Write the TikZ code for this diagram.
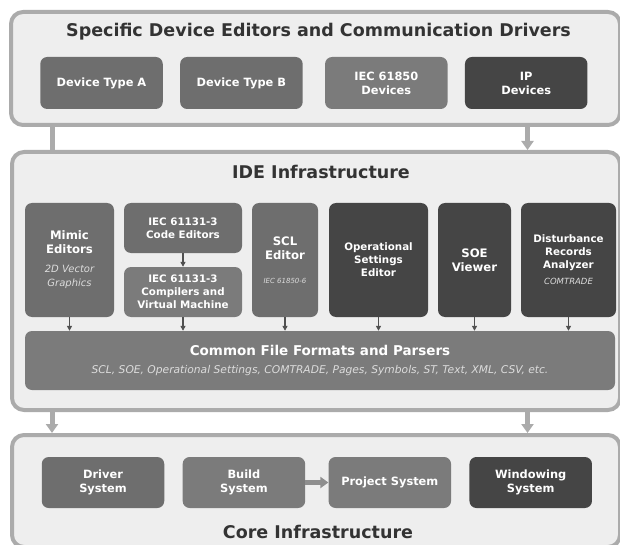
\documentclass[tikz,border=0pt]{standalone}
\usepackage{fontspec}
\setmainfont{DejaVu Sans}
\usepackage{xcolor}
\usepackage{tikz}
\usetikzlibrary{arrows.meta, positioning}

\definecolor{panelfill}{HTML}{EEEEEE}
\definecolor{panelline}{HTML}{ABABAB}
\definecolor{boxmid}{HTML}{6E6E6E}
\definecolor{boxlight}{HTML}{7B7B7B}
\definecolor{boxdark}{HTML}{454545}
\definecolor{titletext}{HTML}{333333}
\definecolor{notetext}{HTML}{DCDCDC}
\definecolor{tickarrow}{HTML}{505050}
\definecolor{flowarrow}{HTML}{8E8E8E}

\newcommand{\modnote}[2][10]{{\normalfont\itshape\fontsize{#1}{#1}\selectfont\color{notetext}#2}}
\newcommand{\modsmall}{\bfseries\fontsize{10.3}{13}\selectfont}
\newcommand{\modbig}{\bfseries\fontsize{11.7}{14}\selectfont}

\tikzstyle{panel} = [rectangle, rounded corners=12pt, draw=panelline, line width=4pt, fill=panelfill, inner sep=0pt]
\tikzstyle{paneltitle} = [text=titletext, font=\bfseries\fontsize{17.5}{20}\selectfont, inner sep=0pt]
\tikzstyle{module} = [rectangle, rounded corners=7pt, text=white, align=center, inner sep=0pt, font=\bfseries\fontsize{11.4}{14}\selectfont]
\tikzstyle{toprow} = [module, minimum width=122.5pt, minimum height=52pt]
\tikzstyle{idecol} = [module, minimum height=114pt]
\tikzstyle{layerline} = [draw=panelline, line width=5pt]
\tikzstyle{layerarrow} = [draw=panelline, line width=5pt, -{Triangle[width=12pt,length=9pt]}]
\tikzstyle{tick} = [draw=tickarrow, line width=1.2pt, -{Triangle[width=5pt,length=5pt]}]
\tikzstyle{flow} = [draw=flowarrow, line width=4.5pt, -{Triangle[width=11pt,length=8pt]}]

\begin{document}
\begin{tikzpicture}[x=1pt, y=-1pt]
\clip (0,0) rectangle (620,545);

\node (devpanel) [panel, minimum width=609pt, minimum height=113pt] at (315.5,68.5) {};
\node (idepanel) [panel, minimum width=608pt, minimum height=258pt] at (316,281) {};
\node (corepanel) [panel, minimum width=608pt, minimum height=112pt] at (316,491) {};

\node (devtitle) [paneltitle] at (318.5,32) {Specific Device Editors and Communication Drivers};
\node (idetitle) [paneltitle] at (321,172) {IDE Infrastructure};
\node (coretitle) [paneltitle] at (318,532) {Core Infrastructure};

\node (typea) [toprow, fill=boxmid] at (101.5,83) {Device Type A};
\node (typeb) [toprow, fill=boxmid, right=17pt of typea] {Device Type B};
\node (iecdev) [toprow, fill=boxlight, right=22pt of typeb] {IEC 61850\\Devices};
\node (ipdev) [toprow, fill=boxdark, right=17pt of iecdev] {IP\\Devices};

\node (mimic) [idecol, fill=boxmid, minimum width=89pt, font=\modbig] at (69.5,260) {Mimic\\Editors\\[5pt]\modnote{2D Vector}\\\modnote{Graphics}};
\node (code) [module, fill=boxmid, minimum width=118pt, minimum height=50pt, font=\modsmall] at (183,228) {IEC 61131-3\\Code Editors};
\node (compilers) [module, fill=boxlight, minimum width=118pt, minimum height=50pt, font=\modsmall] at (183,292) {IEC 61131-3\\Compilers and\\Virtual Machine};
\node (scl) [idecol, fill=boxmid, minimum width=66pt, font=\modbig] at (285,260) {SCL\\Editor\\[10pt]\modnote[7]{IEC 61850-6}};
\node (oper) [idecol, fill=boxdark, minimum width=99pt, font=\modsmall] at (378.5,260) {Operational\\Settings\\Editor};
\node (soe) [idecol, fill=boxdark, minimum width=73pt, font=\modbig] at (474.5,260) {SOE\\Viewer};
\node (dist) [idecol, fill=boxdark, minimum width=95pt, font=\modsmall] at (568.5,260) {Disturbance\\Records\\Analyzer\\[3pt]\modnote[8.5]{COMTRADE}};
\node (common) [module, fill=boxlight, minimum width=590pt, minimum height=59pt, font=\bfseries\fontsize{13.5}{16}\selectfont] at (320,360.5) {Common File Formats and Parsers\\[2pt]\modnote[10.7]{SCL, SOE, Operational Settings, COMTRADE, Pages, Symbols, ST, Text, XML, CSV, etc.}};

\node (driver) [toprow, fill=boxmid, minimum height=51pt] at (103,482.5) {Driver\\System};
\node (build) [toprow, fill=boxlight, minimum height=51pt, right=18pt of driver] {Build\\System};
\node (project) [toprow, fill=boxlight, minimum height=51pt, right=23pt of build] {Project System};
\node (windowing) [toprow, fill=boxdark, minimum height=51pt, right=18pt of project] {Windowing\\System};

\coordinate (leftdrop) at (52,0);
\coordinate (rightdrop) at (527.5,0);

\draw [layerline] (devpanel.south -| leftdrop) -- (idepanel.north -| leftdrop);
\draw [layerarrow] (devpanel.south -| rightdrop) -- (idepanel.north -| rightdrop);
\draw [layerarrow] (idepanel.south -| leftdrop) -- (corepanel.north -| leftdrop);
\draw [layerarrow] (idepanel.south -| rightdrop) -- (corepanel.north -| rightdrop);

\draw [tick] (code.south) -- (compilers.north);
\draw [tick] (mimic.south) -- (mimic.south |- common.north);
\draw [tick] (compilers.south) -- (compilers.south |- common.north);
\draw [tick] (scl.south) -- (scl.south |- common.north);
\draw [tick] (oper.south) -- (oper.south |- common.north);
\draw [tick] (soe.south) -- (soe.south |- common.north);
\draw [tick] (dist.south) -- (dist.south |- common.north);

\draw [flow] (build) -- (project);

\end{tikzpicture}
\end{document}
